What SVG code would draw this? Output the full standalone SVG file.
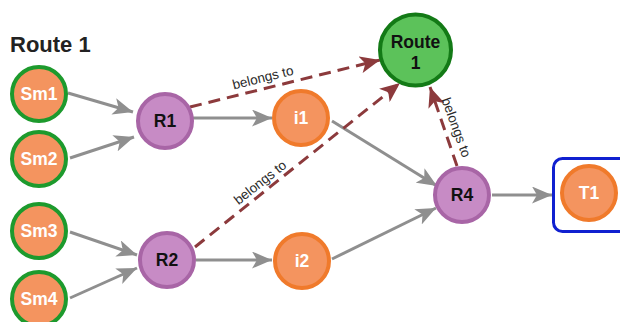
<svg xmlns="http://www.w3.org/2000/svg" width="620" height="322" viewBox="0 0 620 322">
<defs>
<style>
.sm{fill:#f4945f;stroke:#1d9a2d;stroke-width:4}
.rn{fill:#c78bc5;stroke:#a865a6;stroke-width:4}
.io{fill:#f4945f;stroke:#f07a2b;stroke-width:4}
.rt{fill:#5cc25a;stroke:#137a16;stroke-width:4}
.wt{font-family:"Liberation Sans",Arial,sans-serif;font-weight:bold;font-size:17.5px;fill:#ffffff;text-anchor:middle}
.bt{font-family:"Liberation Sans",Arial,sans-serif;font-weight:bold;font-size:17.5px;fill:#111111;text-anchor:middle}
.lbl{font-family:"Liberation Sans",Arial,sans-serif;font-size:13.5px;fill:#2a2a2a;text-anchor:middle}
.g{stroke:#8f8f8f;stroke-width:3;fill:none}
.d{stroke:#8c3a3c;stroke-width:3;fill:none;stroke-dasharray:12 7}
</style>
<marker id="ag" markerUnits="userSpaceOnUse" markerWidth="21" markerHeight="17" refX="20" refY="8.5" orient="auto" viewBox="0 0 21 17">
<path d="M0,0 L20,8.5 L0,17 L5,8.5 z" fill="#8f8f8f"/>
</marker>
<marker id="ad" markerUnits="userSpaceOnUse" markerWidth="21" markerHeight="17" refX="20" refY="8.5" orient="auto" viewBox="0 0 21 17">
<path d="M0,0 L20,8.5 L0,17 L5,8.5 z" fill="#8c3a3c"/>
</marker>
</defs>
<rect width="620" height="322" fill="#ffffff"/>
<text x="10" y="52" font-family="'Liberation Sans',Arial,sans-serif" font-weight="bold" font-size="22" fill="#222222">Route 1</text>
<g id="connectors">
<line class="g" x1="68" y1="93" x2="133" y2="112" marker-end="url(#ag)"/>
<line class="g" x1="70" y1="158" x2="134" y2="137" marker-end="url(#ag)"/>
<line class="g" x1="193" y1="118" x2="272" y2="118" marker-end="url(#ag)"/>
<line class="g" x1="332" y1="121" x2="437" y2="186" marker-end="url(#ag)"/>
<line class="g" x1="70" y1="232" x2="137" y2="255" marker-end="url(#ag)"/>
<line class="g" x1="70" y1="298" x2="137" y2="268" marker-end="url(#ag)"/>
<line class="g" x1="196" y1="260" x2="272" y2="260" marker-end="url(#ag)"/>
<line class="g" x1="332" y1="259" x2="436" y2="208" marker-end="url(#ag)"/>
<line class="g" x1="492" y1="195" x2="552" y2="195" marker-end="url(#ag)"/>
<line class="d" x1="190" y1="107" x2="380" y2="60" marker-end="url(#ad)"/>
<line class="d" x1="195" y1="247" x2="400" y2="83" marker-end="url(#ad)"/>
<line class="d" x1="457" y1="166" x2="430" y2="87" marker-end="url(#ad)"/>
<text class="lbl" x="264" y="82" transform="rotate(-14 264 82)">belongs to</text>
<text class="lbl" x="263" y="186" transform="rotate(-38 263 186)">belongs to</text>
<text class="lbl" x="452" y="129" transform="rotate(70 452 129)">belongs to</text>
</g>
<g id="Sm1"><circle class="sm" cx="39" cy="94" r="27"/><text class="wt" x="39" y="100">Sm1</text></g>
<g id="Sm2"><circle class="sm" cx="39" cy="159" r="27"/><text class="wt" x="39" y="165">Sm2</text></g>
<g id="Sm3"><circle class="sm" cx="39" cy="231" r="27"/><text class="wt" x="39" y="237">Sm3</text></g>
<g id="Sm4"><circle class="sm" cx="39" cy="299" r="27"/><text class="wt" x="39" y="305">Sm4</text></g>
<g id="R1"><circle class="rn" cx="165" cy="121" r="27"/><text class="bt" x="165" y="127">R1</text></g>
<g id="R2"><circle class="rn" cx="167" cy="260" r="27"/><text class="bt" x="167" y="266">R2</text></g>
<g id="i1"><circle class="io" cx="301" cy="118" r="27"/><text class="wt" x="301" y="124">i1</text></g>
<g id="i2"><circle class="io" cx="302" cy="261" r="27"/><text class="wt" x="302" y="267">i2</text></g>
<g id="R4"><circle class="rn" cx="462" cy="195" r="27"/><text class="bt" x="462" y="201">R4</text></g>
<g id="Route1node"><circle class="rt" cx="415.5" cy="50" r="35.5"/><text class="bt" x="415.5" y="48" font-size="18">Route</text><text class="bt" x="415.5" y="69" font-size="18">1</text></g>
<g id="T1box"><rect x="553.5" y="158.5" width="80" height="73" rx="9" fill="none" stroke="#1020d0" stroke-width="3"/>
<g id="T1"><circle class="io" cx="589" cy="193" r="27"/><text class="wt" x="589" y="199">T1</text></g></g>
</svg>
